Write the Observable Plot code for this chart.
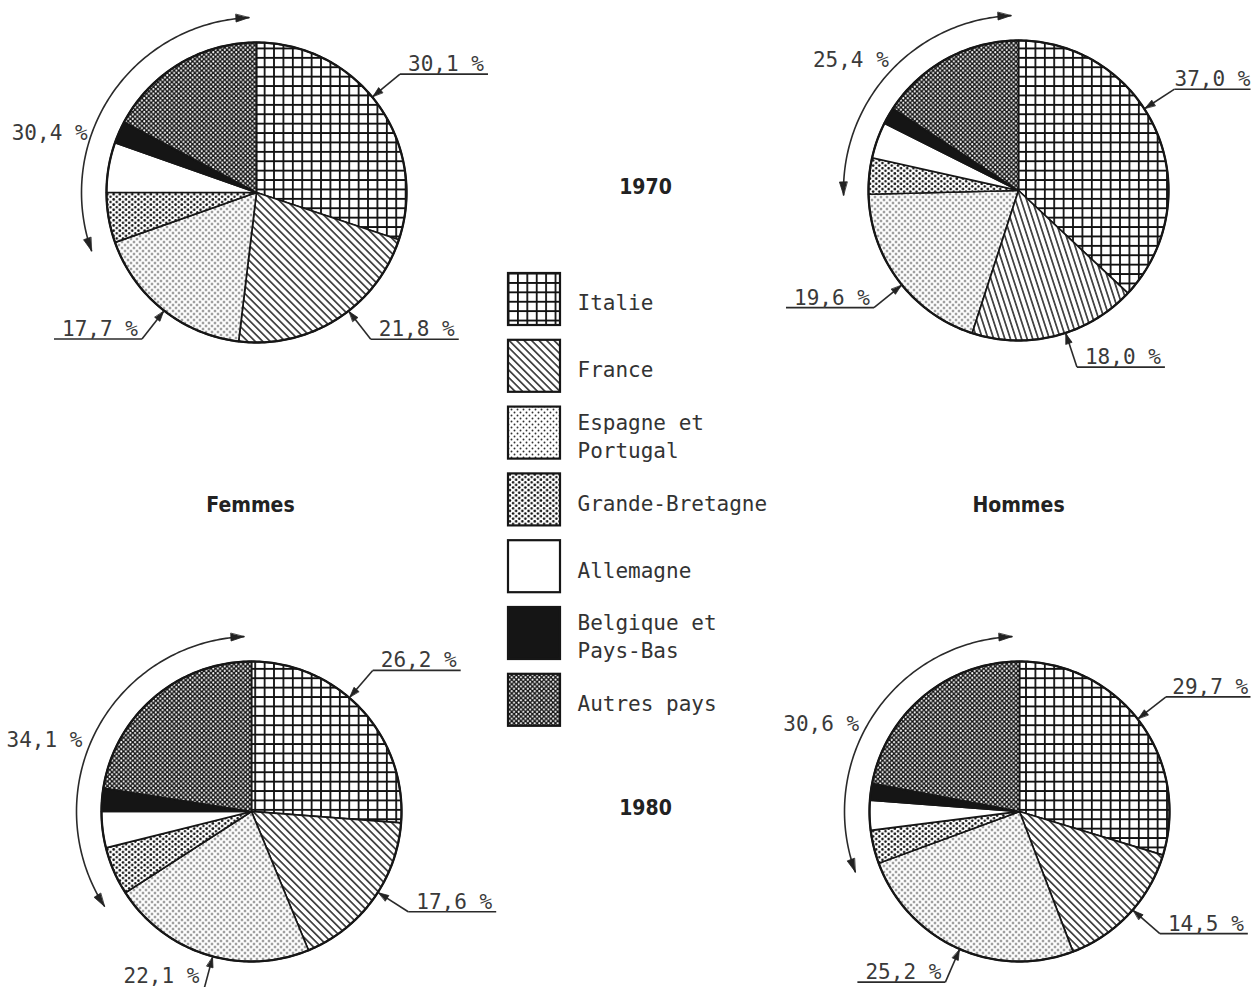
<!DOCTYPE html>
<html><head><meta charset="utf-8">
<script src="https://cdn.jsdelivr.net/npm/d3@7"></script>
<script src="https://cdn.jsdelivr.net/npm/@observablehq/plot@0.6"></script>
<style>
html,body{margin:0;padding:0;background:#fff;}
#chart svg{display:block;}
</style></head><body>
<svg width="0" height="0" style="position:absolute">
<defs>
  <pattern id="p-italie" patternUnits="userSpaceOnUse" width="9.4" height="9.4">
    <rect width="9.4" height="9.4" fill="#fff"/>
    <path d="M0,0.9H9.4M0.9,0V9.4" stroke="#111" stroke-width="1.8" fill="none"/>
  </pattern>
  <pattern id="p-france" patternUnits="userSpaceOnUse" width="5.3" height="5.3" patternTransform="rotate(-45)">
    <rect width="5.3" height="5.3" fill="#fff"/>
    <path d="M2.65,0V5.3" stroke="#222" stroke-width="1.5"/>
  </pattern>
  <pattern id="p-france-steep" patternUnits="userSpaceOnUse" width="5.3" height="5.3" patternTransform="rotate(-18)">
    <rect width="5.3" height="5.3" fill="#fff"/>
    <path d="M2.65,0V5.3" stroke="#222" stroke-width="1.5"/>
  </pattern>
  <pattern id="p-esp" patternUnits="userSpaceOnUse" width="6" height="6">
    <rect width="6" height="6" fill="#fff"/>
    <circle cx="1.5" cy="1.5" r="0.95" fill="#333"/>
    <circle cx="4.5" cy="4.5" r="0.95" fill="#333"/>
  </pattern>
  <pattern id="p-gb" patternUnits="userSpaceOnUse" width="6.2" height="5.2">
    <rect width="6.2" height="5.2" fill="#fff"/>
    <circle cx="1.55" cy="1.3" r="1.3" fill="#111"/>
    <circle cx="4.65" cy="3.9" r="1.3" fill="#111"/>
  </pattern>
  <pattern id="p-autres" patternUnits="userSpaceOnUse" width="4.6" height="4.6">
    <rect width="4.6" height="4.6" fill="#151515"/>
    <circle cx="1.15" cy="1.15" r="1.05" fill="#fff"/>
    <circle cx="3.45" cy="3.45" r="1.05" fill="#fff"/>
  </pattern>
</defs>
</svg>
<div id="chart"></div>
<script>
// ---------------- DATA ----------------
const categories = ["Italie", "France", "Espagne et Portugal", "Grande-Bretagne", "Allemagne", "Belgique et Pays-Bas", "Autres pays"];
const legendLabels = ["Italie", "France", "Espagne et\nPortugal", "Grande-Bretagne", "Allemagne", "Belgique et\nPays-Bas", "Autres pays"];
const femmes1970 = [30.1, 21.8, 17.7, 5.4, 5.4, 2.4, 17.2];
const hommes1970 = [37.0, 18.0, 19.6, 3.9, 3.9, 1.8, 15.8];
const femmes1980 = [26.2, 17.6, 22.1, 5.2, 3.9, 2.5, 22.5];
const hommes1980 = [29.7, 14.5, 25.2, 3.6, 3.2, 1.8, 22.0];
const sexLabels = ["Femmes", "Hommes"];
const yearLabels = ["1970", "1980"];

// ---------------- LAYOUT / STYLE ----------------
const W = 1252, H = 987, R = 150, ARC_R = 175;
const series = [femmes1970, hommes1970, femmes1980, hommes1980];
const centers = [[256, 192], [1018, 190], [251, 811], [1019, 811]];
const leaderShift = [[-3.7, -5.5, -0.7], [-9.6, -3.9, -2.3], [-6.5, -3.4, -2.5], [-1.5, -2, -1]];
const restLabelShift = [-17.3, -4.6, -7.6, -9.1];
const restLabelR = [216, 214, 220, 218];
const fills = ["url(#p-italie)", "url(#p-france)", "url(#p-esp)", "url(#p-gb)", "#fff", "#151515", "url(#p-autres)"];
const fillOverride = {"1-1": "url(#p-france-steep)"};
const monoFont = "DejaVu Sans Mono, Liberation Mono, monospace";
const titleFont = "Liberation Sans Narrow, DejaVu Sans Condensed, Arial Narrow, sans-serif";
const ink = "#161616", textInk = "#3a3a3a";

const fmt = v => v.toFixed(1).replace(".", ",") + " %";
const polar = (cx, cy, r, deg) => { const a = deg * Math.PI / 180; return [cx + r * Math.sin(a), cy - r * Math.cos(a)]; };
function arrowHead(id, tip, heading, L = 12, w = 3.6) {
  const a = heading * Math.PI / 180, ux = Math.sin(a), uy = -Math.cos(a);
  const bx = tip[0] - L * ux, by = tip[1] - L * uy;
  return [[tip[0], tip[1]], [bx - uy * w, by + ux * w], [bx + uy * w, by - ux * w]].map(([x, y]) => ({id, x, y}));
}

const sliceGroups = new Map();
const circlePts = [];
const arcPts = [];
const heads = [];
const links = [];
const labels = [];

series.forEach((vals, p) => {
  const [cx, cy] = centers[p];
  const total = d3.sum(vals);
  let acc = 0;
  const angles = vals.map(v => { const a0 = acc / total * 360; acc += v; return [a0, acc / total * 360]; });
  angles.forEach(([a0, a1], i) => {
    const id = `${p}-${i}`;
    const f = fillOverride[id] || fills[i];
    if (!sliceGroups.has(f)) sliceGroups.set(f, []);
    const pts = sliceGroups.get(f);
    pts.push({id, x: cx, y: cy});
    const n = Math.max(2, Math.ceil(a1 - a0));
    for (let k = 0; k <= n; k++) { const [x, y] = polar(cx, cy, R, a0 + (a1 - a0) * k / n); pts.push({id, x, y}); }
  });
  for (let k = 0; k < 360; k++) { const [x, y] = polar(cx, cy, R, k); circlePts.push({id: p, x, y}); }
  // leader labels for the three largest named groups
  for (let i = 0; i < 3; i++) {
    const [a0, a1] = angles[i];
    const phi = (a0 + a1) / 2 + leaderShift[p][i];
    const T = polar(cx, cy, R + 1, phi), E = polar(cx, cy, R + 36, phi);
    const right = Math.sin(phi * Math.PI / 180) > 0;
    const u0 = right ? E[0] : E[0] - 88, u1 = Math.min(right ? E[0] + 88 : E[0], W - 2);
    links.push({x1: E[0], y1: E[1], x2: T[0], y2: T[1]});
    links.push({x1: u0, y1: E[1], x2: u1, y2: E[1]});
    heads.push(...arrowHead(`L${p}-${i}`, T, phi + 180, 10, 3.2));
    labels.push({x: Math.min((u0 + u1) / 2 + 2, W - 40), y: Math.min(E[1] - 3, H - 5), text: fmt(vals[i])});
  }
  // curved arrow spanning the remaining countries
  const aStart = angles[3][0], aEnd = 357.5;
  const n = Math.ceil(aEnd - aStart);
  for (let k = 0; k <= n; k++) { const [x, y] = polar(cx, cy, ARC_R, aStart + (aEnd - aStart) * k / n); arcPts.push({id: p, x, y}); }
  heads.push(...arrowHead(`A${p}e`, polar(cx, cy, ARC_R, aEnd), aEnd + 90, 13, 3.8));
  heads.push(...arrowHead(`A${p}s`, polar(cx, cy, ARC_R, aStart), aStart - 90, 13, 3.8));
  const restTotal = d3.sum(vals.slice(3));
  const psi = (aStart + aEnd) / 2 + restLabelShift[p];
  const [lx, ly] = polar(cx, cy, restLabelR[p], psi);
  labels.push({x: lx, y: ly + 10, text: fmt(restTotal)});
});

// legend rows
const legendRows = categories.map((c, i) => ({i, label: legendLabels[i], y0: 273 + i * 66.8}));

// titles
const titleRows = [
  {x: 645, y: (centers[0][1] + centers[1][1]) / 2 - 4, text: yearLabels[0]},
  {x: 645, y: (centers[2][1] + centers[3][1]) / 2 - 3, text: yearLabels[1]},
  {x: centers[0][0] - 6, y: 505, text: sexLabels[0]},
  {x: centers[1][0], y: 505, text: sexLabels[1]}
];

const marks = [];
for (const [f, pts] of sliceGroups) {
  marks.push(Plot.line(pts, {x: "x", y: "y", z: "id", curve: "linear-closed", fill: f, stroke: ink, strokeWidth: 1.7, strokeLinejoin: "round"}));
}
marks.push(Plot.line(circlePts, {x: "x", y: "y", z: "id", curve: "linear-closed", fill: "none", stroke: ink, strokeWidth: 2.3}));
marks.push(Plot.line(arcPts, {x: "x", y: "y", z: "id", stroke: "#2a2a2a", strokeWidth: 1.6}));
marks.push(Plot.link(links, {x1: "x1", y1: "y1", x2: "x2", y2: "y2", stroke: "#2a2a2a", strokeWidth: 1.6}));
marks.push(Plot.line(heads, {x: "x", y: "y", z: "id", curve: "linear-closed", fill: "#222", stroke: "#222", strokeWidth: 0.8}));
marks.push(Plot.text(labels, {x: "x", y: "y", text: "text", textAnchor: "middle", lineAnchor: "bottom", fontFamily: monoFont, fontSize: 21, fill: textInk}));
// legend
categories.forEach((c, i) => {
  marks.push(Plot.rect([legendRows[i]], {x1: () => 508, x2: () => 560, y1: d => d.y0, y2: d => d.y0 + 52, fill: fills[i], stroke: ink, strokeWidth: 2.2}));
});
marks.push(Plot.text(legendRows, {x: () => 577, y: d => d.y0 + 28, text: "label", textAnchor: "start", lineAnchor: "middle", lineHeight: 1.33, fontFamily: monoFont, fontSize: 21, fill: "#333"}));
marks.push(Plot.text(titleRows, {x: "x", y: "y", text: "text", textAnchor: "middle", lineAnchor: "middle", fontFamily: titleFont, fontWeight: "bold", fontSize: 21, fill: "#222"}));

const chart = Plot.plot({
  width: W, height: H,
  marginTop: 0, marginRight: 0, marginBottom: 0, marginLeft: 0,
  x: {type: "linear", domain: [0, W], range: [0, W], axis: null},
  y: {type: "linear", domain: [0, H], range: [0, H], axis: null},
  marks
});
document.getElementById("chart").appendChild(chart);
</script>
</body></html>
